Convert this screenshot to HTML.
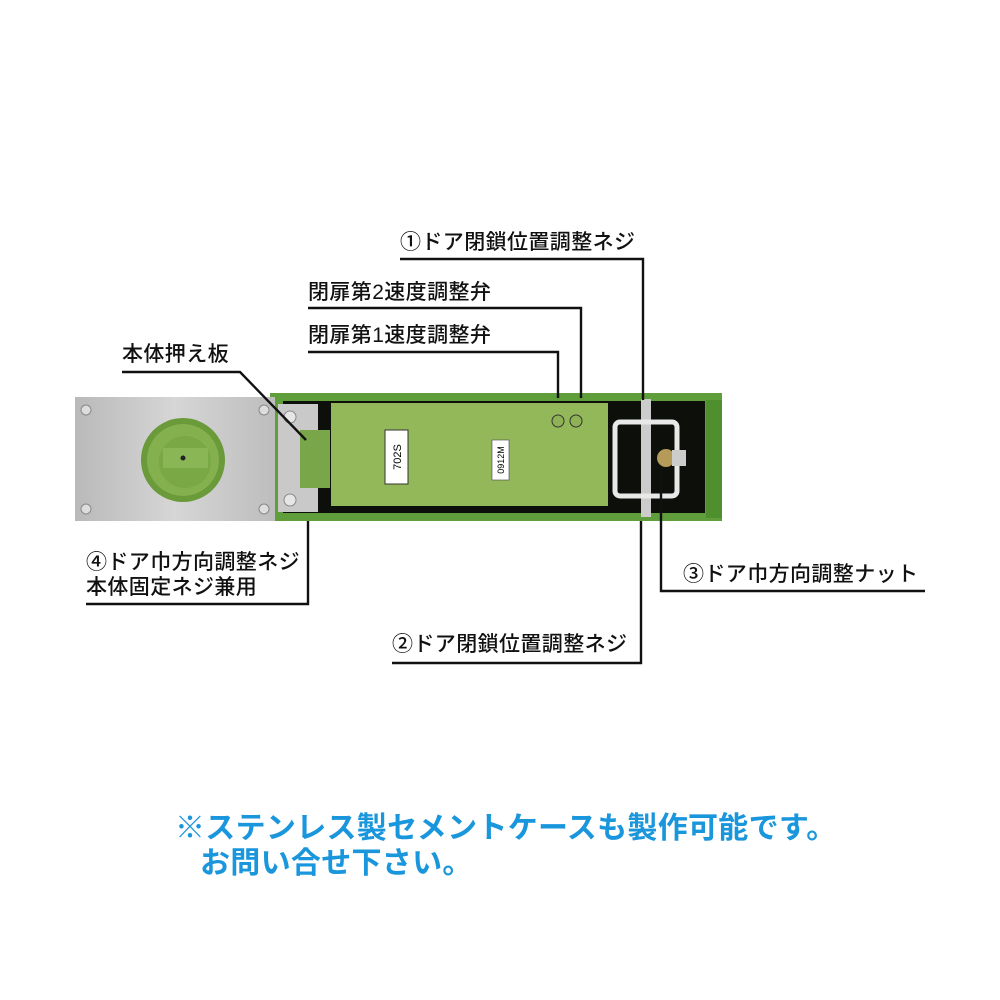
<!DOCTYPE html>
<html><head><meta charset="utf-8"><style>
html,body{margin:0;padding:0;background:#fff}
#c{position:relative;width:1000px;height:1000px;overflow:hidden;font-family:"Liberation Sans","Noto Sans CJK JP",sans-serif}
.t{position:absolute;font-size:21px;letter-spacing:0.4px;font-weight:500;color:#111;white-space:nowrap;line-height:24px}
.b{position:absolute;font-size:30px;letter-spacing:0.3px;font-weight:bold;color:#1a96dc;white-space:nowrap;line-height:36px}
</style></head><body><div id="c">
<svg width="1000" height="1000" style="position:absolute;left:0;top:0">
<defs>
<linearGradient id="ss" x1="0" x2="1"><stop offset="0" stop-color="#b9b9b9"/><stop offset=".5" stop-color="#d6d6d6"/><stop offset="1" stop-color="#bdbdbd"/></linearGradient>
</defs>
<rect x="270" y="393" width="452" height="128" fill="#5f9e3a"/>
<rect x="283" y="401" width="422" height="112" fill="#0c0f0a"/>
<rect x="706" y="400" width="16" height="118" fill="#4f8f2e"/>
<rect x="75" y="397" width="200" height="124" fill="url(#ss)"/>
<circle cx="86" cy="410" r="5" fill="#ddd" stroke="#888"/>
<circle cx="86" cy="509" r="5" fill="#ddd" stroke="#888"/>
<circle cx="264" cy="410" r="5" fill="#ddd" stroke="#888"/>
<circle cx="264" cy="509" r="5" fill="#ddd" stroke="#888"/>
<circle cx="183" cy="460" r="42" fill="#6a9a3a"/>
<circle cx="183" cy="460" r="36" fill="#84b04e"/>
<circle cx="185" cy="462" r="26" fill="#7aa845"/>
<rect x="163" y="448" width="45" height="20" fill="#8ab656"/>
<circle cx="183" cy="458" r="2.5" fill="#222"/>
<rect x="278" y="404" width="40" height="108" fill="#c9c9c9"/>
<rect x="300" y="430" width="30" height="58" fill="#78a648"/>
<circle cx="290" cy="417" r="6" fill="#e6e6e6" stroke="#888"/>
<circle cx="290" cy="500" r="6" fill="#e6e6e6" stroke="#888"/>
<rect x="331" y="403" width="277" height="103" fill="#93b85a"/>
<rect x="385" y="430" width="23" height="54" fill="#fff" stroke="#333"/>
<text x="0" y="0" transform="translate(401,457) rotate(-90)" font-size="11" text-anchor="middle" font-family="Liberation Sans">702S</text>
<rect x="492" y="440" width="17" height="40" fill="#fff" stroke="#444" stroke-width=".6"/>
<text x="0" y="0" transform="translate(504,460) rotate(-90)" font-size="9" text-anchor="middle" font-family="Liberation Sans">0912M</text>
<circle cx="558" cy="421" r="6" fill="#8fb257" stroke="#333"/>
<circle cx="576" cy="421" r="6" fill="#8fb257" stroke="#333"/>
<rect x="641" y="399" width="10" height="118" fill="#ccc"/>
<rect x="615" y="422" width="62" height="74" rx="5" fill="none" stroke="#e8e8e8" stroke-width="5"/>
<circle cx="666" cy="458" r="9" fill="#b69a5a"/>
<rect x="672" y="450" width="14" height="16" fill="#ccc"/>
<g stroke="#111" stroke-width="2.4" fill="none">
<polyline points="122,372 240,372 306,440"/>
<polyline points="400,259 643,259 643,400"/>
<polyline points="308,308 581,308 581,398"/>
<polyline points="308,352 558,352 558,398"/>
<polyline points="86,604 308,604 308,521"/>
<polyline points="661,470 661,591 925,591"/>
<polyline points="392,663 641,663 641,521"/>
</g>
</svg>
<div class="t" style="left:122px;top:343px">本体押え板</div>
<div class="t" style="left:400px;top:231px">①ドア閉鎖位置調整ネジ</div>
<div class="t" style="left:308px;top:281px">閉扉第2速度調整弁</div>
<div class="t" style="left:308px;top:324px">閉扉第1速度調整弁</div>
<div class="t" style="left:86px;top:551px">④ドア巾方向調整ネジ</div>
<div class="t" style="left:86px;top:576px">本体固定ネジ兼用</div>
<div class="t" style="left:683px;top:563px">③ドア巾方向調整ナット</div>
<div class="t" style="left:392px;top:633px">②ドア閉鎖位置調整ネジ</div>
<div class="b" style="left:175px;top:811px">※ステンレス製セメントケースも製作可能です。</div>
<div class="b" style="left:200px;top:846px">お問い合せ下さい。</div>
</div></body></html>
